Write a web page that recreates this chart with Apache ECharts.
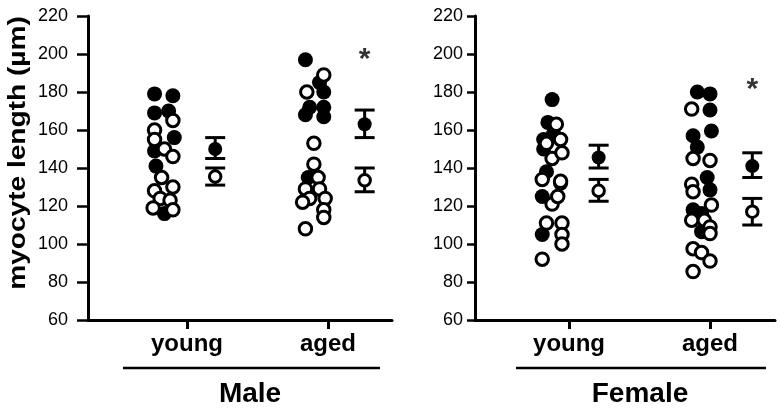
<!DOCTYPE html>
<html>
<head>
<meta charset="utf-8">
<script src="https://cdn.jsdelivr.net/npm/echarts@6/dist/echarts.min.js"></script>
<style>html,body{margin:0;padding:0;background:#fff}#c{width:781px;height:412px}</style>
</head>
<body>
<div id="c"></div>
<script>
// ---- data ----
const categories = ['young', 'aged'];
const yTicks = [60, 80, 100, 120, 140, 160, 180, 200, 220];
const panels = ['Male', 'Female'];

// Male, young (x jitter offsets from category position)
const maleYoungFilledY = [179, 178, 169, 170, 156, 149, 141, 116];
const maleYoungFilledX = [-0.23, -0.10, -0.23, -0.13, -0.09, -0.23, -0.22, -0.16];
const maleYoungOpenY = [165, 160, 155, 150, 146, 135, 130, 128, 124, 123, 119, 118];
const maleYoungOpenX = [-0.10, -0.23, -0.23, -0.16, -0.10, -0.18, -0.10, -0.23, -0.19, -0.12, -0.24, -0.10];
// Male, aged
const maleAgedFilledY = [197, 185, 180, 172, 172, 168, 167, 135];
const maleAgedFilledX = [-0.16, -0.06, -0.03, -0.13, -0.03, -0.16, -0.03, -0.14];
const maleAgedOpenY = [189, 180, 153, 142, 135, 129, 129, 124, 122, 124, 118, 114, 108];
const maleAgedOpenX = [-0.03, -0.15, -0.10, -0.10, -0.07, -0.16, -0.06, -0.13, -0.18, -0.02, -0.03, -0.03, -0.16];
// Female, young
const femaleYoungFilledY = [176, 164, 155, 150, 138, 125, 105, 132, 158];
const femaleYoungFilledX = [-0.12, -0.15, -0.18, -0.18, -0.16, -0.19, -0.19, -0.06, -0.11];
const femaleYoungOpenY = [163, 153, 155, 145, 148, 134, 133, 121, 111, 111, 105, 100, 92, 125];
const femaleYoungOpenX = [-0.09, -0.16, -0.06, -0.12, -0.05, -0.19, -0.06, -0.12, -0.16, -0.05, -0.05, -0.05, -0.19, -0.08];
// Female, aged
const femaleAgedFilledY = [180, 179, 170.5, 157, 159.5, 151, 135, 128.5, 118, 116, 106.5];
const femaleAgedFilledX = [-0.09, 0.0, 0.0, -0.12, 0.01, -0.09, -0.02, 0.0, -0.12, -0.06, -0.06];
const femaleAgedOpenY = [171, 145, 144, 131.5, 127.5, 120.5, 112.5, 112.5, 109, 105.5, 97.5, 95.5, 91, 85.5];
const femaleAgedOpenX = [-0.13, -0.12, 0.0, -0.13, -0.12, 0.01, -0.13, -0.04, 0.0, 0.0, -0.12, -0.06, 0.0, -0.12];

// means and error bars [mean, low, high] per category (young, aged)
const maleFilledMean = [[150, 145, 156], [163, 156, 170.5]];
const maleOpenMean = [[135.5, 131, 140], [133.5, 127.5, 140]];
const femaleFilledMean = [[145.5, 140, 152], [141, 135, 148]];
const femaleOpenMean = [[128, 122.5, 134], [117, 110, 124]];
const meanOffsets = [[0.20, 0.26], [0.21, 0.30]];
// significance markers (value position) on aged
const starValues = [197, 181];

// ---- chart ----
const chart = echarts.init(document.getElementById('c'));
const FONT = 'Liberation Sans, Arial, sans-serif';
const catPos = [1, 2];

function pts(xs, ys, catIdx) { return ys.map((v, i) => [catPos[catIdx] + xs[i], v]); }

const gridDefs = [
  { left: 88, width: 304, top: 16, bottom: 92, xmin: 0.298, xmax: 2.454, tickLen: 11, labelMargin: 20 },
  { left: 475, width: 300, top: 16, bottom: 92, xmin: 0.333, xmax: 2.461, tickLen: 8, labelMargin: 12 }
];

const grids = gridDefs.map(g => ({ left: g.left, width: g.width, top: g.top, bottom: g.bottom }));
const xAxes = gridDefs.map((g, i) => ({
  type: 'value', gridIndex: i, min: g.xmin, max: g.xmax,
  splitLine: { show: false },
  axisLine: { show: true, onZero: false, lineStyle: { color: '#000', width: 3 } },
  axisTick: { show: true, inside: false, length: 9, customValues: catPos, lineStyle: { color: '#000', width: 3 } },
  axisLabel: {
    show: true, customValues: catPos, margin: 12,
    formatter: v => categories[Math.round(v) - 1],
    fontFamily: FONT, fontWeight: 'bold', fontSize: 24, color: '#000'
  }
}));
const yAxes = gridDefs.map((g, i) => ({
  type: 'value', gridIndex: i, min: yTicks[0], max: yTicks[yTicks.length - 1], interval: 20,
  splitLine: { show: false },
  axisLine: { show: true, lineStyle: { color: '#000', width: 3 } },
  axisTick: { show: true, inside: false, length: g.tickLen, lineStyle: { color: '#000', width: 2.5 } },
  axisLabel: { margin: g.labelMargin, fontFamily: FONT, fontSize: 18, color: '#000' }
}));

const series = [];
const groups = [
  [[maleYoungFilledX, maleYoungFilledY, maleYoungOpenX, maleYoungOpenY], [maleAgedFilledX, maleAgedFilledY, maleAgedOpenX, maleAgedOpenY]],
  [[femaleYoungFilledX, femaleYoungFilledY, femaleYoungOpenX, femaleYoungOpenY], [femaleAgedFilledX, femaleAgedFilledY, femaleAgedOpenX, femaleAgedOpenY]]
];
const means = [[maleFilledMean, maleOpenMean], [femaleFilledMean, femaleOpenMean]];

function filledStyle() { return { color: '#000', opacity: 1 }; }
function openStyle() { return { color: '#fff', borderColor: '#000', borderWidth: 3, opacity: 1 }; }

for (let p = 0; p < 2; p++) {
  const filled = [], open = [];
  for (let c = 0; c < 2; c++) {
    const g = groups[p][c];
    filled.push(...pts(g[0], g[1], c));
    open.push(...pts(g[2], g[3], c));
  }
  series.push({ type: 'scatter', xAxisIndex: p, yAxisIndex: p, symbol: 'circle', symbolSize: 15, itemStyle: filledStyle(), data: filled, z: 2, silent: true });
  series.push({ type: 'scatter', xAxisIndex: p, yAxisIndex: p, symbol: 'circle', symbolSize: 12.5, itemStyle: openStyle(), data: open, z: 3, silent: true });

  // error bars
  const bars = [];
  for (let c = 0; c < 2; c++) {
    const x = catPos[c] + meanOffsets[p][c];
    bars.push([x, means[p][0][c][1], means[p][0][c][2]]);
    bars.push([x, means[p][1][c][1], means[p][1][c][2]]);
  }
  series.push({
    type: 'custom', xAxisIndex: p, yAxisIndex: p, data: bars, z: 4, silent: true, clip: false,
    encode: { x: 0, y: [1, 2] },
    renderItem: (params, api) => {
      const x = api.value(0);
      const a = api.coord([x, api.value(1)]);
      const b = api.coord([x, api.value(2)]);
      const w = 10;
      const st = { stroke: '#000', lineWidth: 3 };
      return {
        type: 'group', children: [
          { type: 'line', shape: { x1: a[0], y1: a[1], x2: b[0], y2: b[1] }, style: st },
          { type: 'line', shape: { x1: a[0] - w, y1: a[1], x2: a[0] + w, y2: a[1] }, style: st },
          { type: 'line', shape: { x1: b[0] - w, y1: b[1], x2: b[0] + w, y2: b[1] }, style: st }
        ]
      };
    }
  });
  const mf = [], mo = [];
  for (let c = 0; c < 2; c++) {
    const x = catPos[c] + meanOffsets[p][c];
    mf.push([x, means[p][0][c][0]]);
    mo.push([x, means[p][1][c][0]]);
  }
  series.push({ type: 'scatter', xAxisIndex: p, yAxisIndex: p, symbol: 'circle', symbolSize: 14, itemStyle: filledStyle(), data: mf, z: 5, silent: true });
  series.push({ type: 'scatter', xAxisIndex: p, yAxisIndex: p, symbol: 'circle', symbolSize: 11.5, itemStyle: openStyle(), data: mo, z: 5, silent: true });
  // asterisk
  series.push({
    type: 'scatter', xAxisIndex: p, yAxisIndex: p, symbol: 'circle', symbolSize: 0.01, z: 6, silent: true,
    itemStyle: { color: 'rgba(0,0,0,0)' },
    label: { show: true, position: 'inside', formatter: '*', fontFamily: FONT, fontWeight: 'bold', fontSize: 30, color: '#000' },
    data: [[catPos[1] + meanOffsets[p][1], starValues[p]]]
  });
}

chart.setOption({
  animation: false,
  backgroundColor: '#fff',
  grid: grids,
  xAxis: xAxes,
  yAxis: yAxes,
  series: series,
  graphic: [
    { type: 'text', x: 18, y: 153, rotation: Math.PI / 2, scaleX: 1.17,
      style: { text: 'myocyte length (\u00b5m)', font: 'bold 24px ' + FONT, fill: '#000', align: 'center', verticalAlign: 'middle' } },
    { type: 'line', shape: { x1: 123, y1: 368, x2: 380, y2: 368 }, style: { stroke: '#000', lineWidth: 2.6 } },
    { type: 'line', shape: { x1: 516, y1: 368, x2: 766, y2: 368 }, style: { stroke: '#000', lineWidth: 2.6 } },
    { type: 'text', x: 250, y: 394, style: { text: panels[0], font: 'bold 28px ' + FONT, fill: '#000', align: 'center', verticalAlign: 'middle' } },
    { type: 'text', x: 640, y: 394, style: { text: panels[1], font: 'bold 28px ' + FONT, fill: '#000', align: 'center', verticalAlign: 'middle' } }
  ]
});
</script>
</body>
</html>
